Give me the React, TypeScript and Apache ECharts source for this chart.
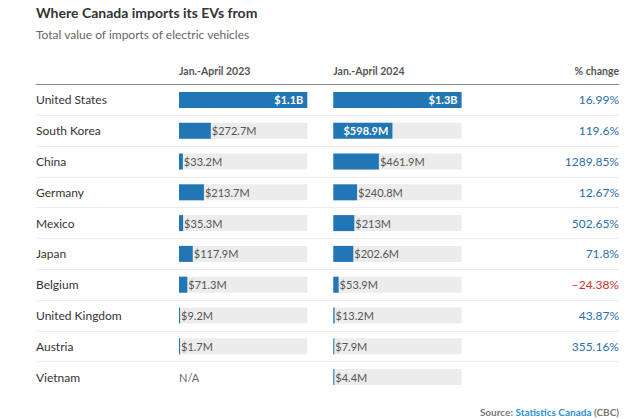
import React, { useEffect, useRef } from "react";
import * as echarts from "echarts";

const countries = [
  "United States",
  "South Korea",
  "China",
  "Germany",
  "Mexico",
  "Japan",
  "Belgium",
  "United Kingdom",
  "Austria",
  "Vietnam",
];
// values in millions of dollars
const values2023: (number | null)[] = [1100, 272.7, 33.2, 213.7, 35.3, 117.9, 71.3, 9.2, 1.7, null];
const values2024: (number | null)[] = [1300, 598.9, 461.9, 240.8, 213, 202.6, 53.9, 13.2, 7.9, 4.4];
const pctChange: (number | null)[] = [16.99, 119.6, 1289.85, 12.67, 502.65, 71.8, -24.38, 43.87, 355.16, null];
const columnHeaders = ["Jan.-April 2023", "Jan.-April 2024", "% change"];

const FONT = "Lato, 'Noto Sans', sans-serif";
const BLUE = "#2176b5";
const TOP = 84.6;
const ROW_H = 30.78;
const BAR_H = 16;

function fmtMoney(v: number): string {
  if (v >= 1000) return "$" + (v / 1000).toFixed(1) + "B";
  return "$" + v + "M";
}

function fmtPct(v: number | null): string {
  if (v == null) return "";
  return (v < 0 ? "–" + String(-v) : String(v)) + "%";
}

function buildSeries(values: (number | null)[], axis: number) {
  const max = Math.max(...(values.filter((v) => v != null) as number[]));
  const bg = {
    type: "bar",
    xAxisIndex: axis,
    yAxisIndex: axis,
    barWidth: BAR_H,
    silent: true,
    itemStyle: { color: "#ececec" },
    data: values.map((v) => (v == null ? null : max)),
    z: 1,
  };
  const main = {
    type: "bar",
    xAxisIndex: axis,
    yAxisIndex: axis,
    barWidth: BAR_H,
    barGap: "-100%",
    barMinHeight: 1,
    silent: true,
    z: 2,
    data: values.map((v) => {
      if (v == null) {
        return {
          value: 0,
          itemStyle: { color: "transparent" },
          label: {
            show: true,
            position: "insideLeft",
            distance: 0,
            formatter: "N/A",
            color: "#666",
            fontSize: 11,
            fontFamily: FONT,
          },
        };
      }
      const inside = v / max > 0.4;
      return {
        value: v,
        label: inside
          ? {
              show: true,
              position: "insideRight",
              distance: 4,
              formatter: fmtMoney(v),
              color: "#ffffff",
              fontWeight: "bold",
              fontSize: 11,
              fontFamily: FONT,
            }
          : {
              show: true,
              position: "right",
              distance: 1,
              formatter: fmtMoney(v),
              color: "#555",
              fontSize: 11,
              fontFamily: FONT,
            },
      };
    }),
    itemStyle: { color: BLUE },
  };
  return [bg, main];
}

export default function App() {
  const ref = useRef<HTMLDivElement>(null);
  useEffect(() => {
    document.body.style.margin = "0";
    if (!ref.current) return;
    const chart = echarts.init(ref.current, undefined, { renderer: "svg" });
    const max23 = Math.max(...(values2023.filter((v) => v != null) as number[]));
    const max24 = Math.max(...(values2024.filter((v) => v != null) as number[]));
    const col1Left = 179;
    const col2Left = 333.3;
    const colW = 128.3;
    const rightEdge = 619;
    chart.setOption({
      animation: false,
      backgroundColor: "#ffffff",
      title: [
        {
          text: "Where Canada imports its EVs from",
          left: 36,
          top: 5,
          padding: 0,
          textStyle: { fontSize: 14, fontWeight: "bold", color: "#333", fontFamily: FONT },
        },
        {
          text: "Total value of imports of electric vehicles",
          left: 36,
          top: 28,
          padding: 0,
          textStyle: { fontSize: 12, fontWeight: "normal", color: "#666", fontFamily: FONT },
        },
        {
          text: columnHeaders[0],
          left: col1Left,
          top: 65,
          padding: 0,
          textStyle: { fontSize: 10.5, fontWeight: "bold", color: "#555", fontFamily: FONT },
        },
        {
          text: columnHeaders[1],
          left: col2Left,
          top: 65,
          padding: 0,
          textStyle: { fontSize: 10.5, fontWeight: "bold", color: "#555", fontFamily: FONT },
        },
        {
          text: columnHeaders[2],
          right: 640 - rightEdge,
          top: 65,
          padding: 0,
          textStyle: { fontSize: 10.5, fontWeight: "bold", color: "#555", fontFamily: FONT },
        },
        {
          text: "{a|Source: }{b|Statistics Canada}{a| (CBC)}",
          right: 640 - rightEdge,
          top: 407,
          padding: 0,
          textStyle: {
            fontFamily: FONT,
            rich: {
              a: { fontSize: 10, color: "#777", fontFamily: FONT },
              b: { fontSize: 10, color: "#2a8fd6", fontFamily: FONT },
            },
          },
        },
      ],
      grid: [
        { left: 36, width: rightEdge - 36, top: TOP, height: ROW_H * 9 },
        { left: col1Left, width: colW, top: TOP, height: ROW_H * 10 },
        { left: col2Left, width: colW, top: TOP, height: ROW_H * 10 },
      ],
      xAxis: [
        {
          gridIndex: 0,
          type: "value",
          position: "top",
          min: 0,
          max: 1,
          axisLine: { show: true, lineStyle: { color: "#8a8a8a", width: 1 } },
          axisTick: { show: false },
          axisLabel: { show: false },
          splitLine: { show: false },
          z: 5,
        },
        { gridIndex: 1, type: "value", min: 0, max: max23, show: false },
        { gridIndex: 2, type: "value", min: 0, max: max24, show: false },
      ],
      yAxis: [
        {
          gridIndex: 0,
          type: "value",
          inverse: true,
          min: 0,
          max: 9,
          interval: 1,
          axisLine: { show: false },
          axisTick: { show: false },
          axisLabel: { show: false },
          splitLine: { show: true, lineStyle: { color: "#ececec", width: 1 } },
        },
        {
          gridIndex: 1,
          type: "category",
          data: countries,
          inverse: true,
          axisLine: { show: false },
          axisTick: { show: false },
          axisLabel: {
            margin: col1Left - 36,
            align: "left",
            color: "#333",
            fontSize: 12,
            fontFamily: FONT,
          },
        },
        {
          gridIndex: 2,
          type: "category",
          position: "right",
          data: countries,
          inverse: true,
          axisLine: { show: false },
          axisTick: { show: false },
          axisLabel: {
            margin: rightEdge - (col2Left + colW),
            align: "right",
            fontFamily: FONT,
            formatter: (_v: string, i: number) => {
              const p = pctChange[i];
              if (p == null) return "";
              return p < 0 ? "{neg|" + fmtPct(p) + "}" : "{pos|" + fmtPct(p) + "}";
            },
            rich: {
              pos: { color: "#2b6fa8", fontSize: 12, fontFamily: FONT },
              neg: { color: "#d0312d", fontSize: 12, fontFamily: FONT },
            },
          },
        },
      ],
      series: [...buildSeries(values2023, 1), ...buildSeries(values2024, 2)],
    });
    return () => chart.dispose();
  }, []);
  return <div ref={ref} style={{ width: 640, height: 419 }} />;
}
